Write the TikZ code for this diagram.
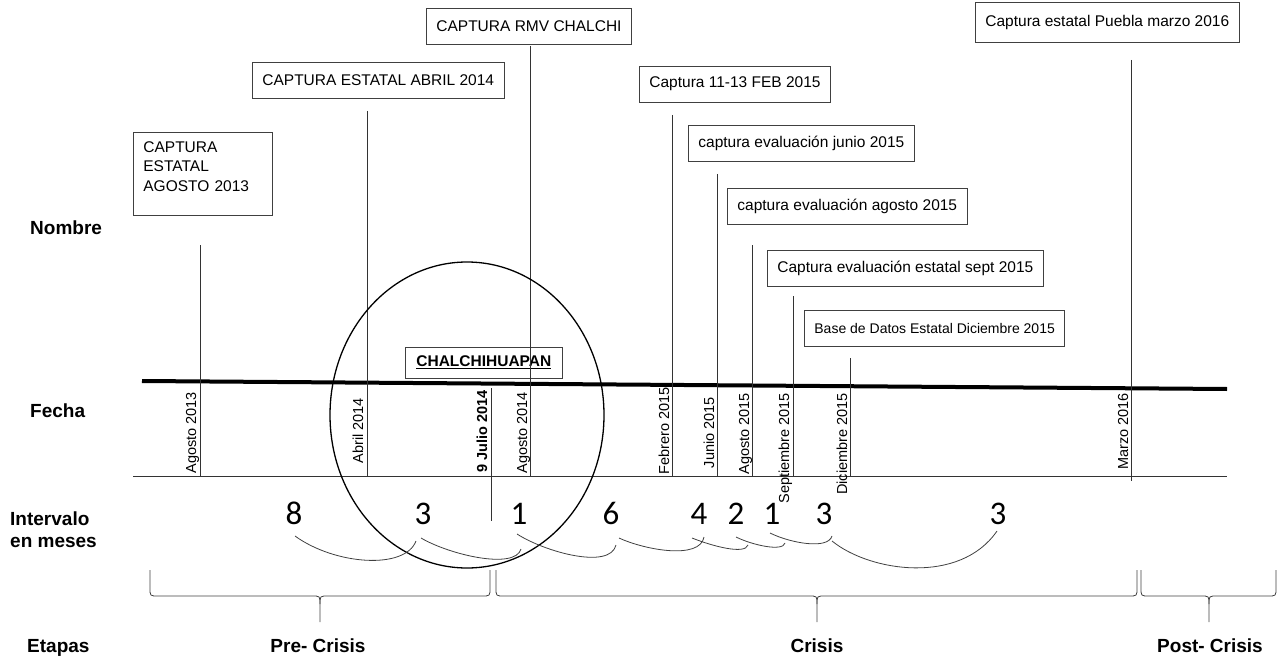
\documentclass[tikz,border=0pt]{standalone}
\usepackage{fontspec}
\setmainfont{Liberation Sans}
\newfontfamily\numfont{Carlito}
\usetikzlibrary{calc}

\begin{document}
\begin{tikzpicture}[x=1pt,y=-1pt,
	caja/.style={draw=black!75,line width=0.8pt,inner xsep=10pt,minimum height=36pt,anchor=west,font=\fontsize{15.5}{19.5}\selectfont},
	fecha/.style={rotate=90,anchor=base east,inner sep=0pt,font=\fontsize{14.5}{17}\selectfont},
	linea/.style={draw=black!80,line width=0.8pt},
	etiqueta/.style={font=\bfseries\fontsize{19}{22}\selectfont,inner sep=0pt},
	mes/.style={font=\numfont\fontsize{33}{36}\selectfont,inner sep=0pt,anchor=base},
	arco/.style={draw=black!75,line width=0.8pt},
	llave/.style={draw=black!75,line width=0.8pt}]
	
	\useasboundingbox (0,0) rectangle (1283,658);
	
	% filas
	\node[etiqueta,anchor=base west] (nombre) at (30,234) {Nombre};
	\node[etiqueta,anchor=base west] (fecha) at (30,417) {Fecha};
	\node[etiqueta,anchor=north west,align=left] (intervalo) at (10,512) {Intervalo\\en meses};
	\node[etiqueta,anchor=base west] (etapas) at (27,652) {Etapas};
	
	% cajas
	\node[caja,anchor=north west,align=left,text width=119pt,inner ysep=9pt,minimum height=0pt] (cap13) at (133,132) {CAPTURA\\ESTATAL\\AGOSTO 2013\\[-4.5pt]\mbox{}};
	\node[caja] (cap14) at (252,80) {CAPTURA ESTATAL ABRIL 2014};
	\node[caja] (rmv) at (426,26) {CAPTURA RMV CHALCHI};
	\node[caja] (feb15) at (639,84) {Captura 11-13 FEB 2015};
	\node[caja] (jun15) at (688,143) {captura evaluación junio 2015};
	\node[caja] (ago15) at (727,206) {captura evaluación agosto 2015};
	\node[caja] (sep15) at (767,268) {Captura evaluación estatal sept 2015};
	\node[caja,font=\fontsize{14}{17}\selectfont] (dic15) at (804,328) {Base de Datos Estatal Diciembre 2015};
	\node[caja,minimum height=40pt] (mar16) at (975,22) {Captura estatal Puebla marzo 2016};
	\node[draw=black!75,line width=0.8pt,font=\bfseries\fontsize{15.5}{18}\selectfont,inner xsep=11pt,minimum height=31pt,anchor=west] (chal) at (405,362.5) {\underline{CHALCHIHUAPAN}};
	
	% ejes
	\coordinate (eje1) at (142,381);
	\coordinate (eje2) at (1227,389);
	\coordinate (base1) at (133,476);
	\coordinate (base2) at (1227,476);
	\draw[line width=4pt] (eje1) -- (eje2);
	\draw[linea] (base1) -- (base2);
	
	% fechas
	\coordinate (ago13a) at (200,245);
	\coordinate (ago13b) at (200,476);
	\draw[linea] (ago13a) -- (ago13b);
	\node[fecha] (ago13) at (196,392) {Agosto 2013};
	
	\coordinate (abr14a) at (367,111);
	\coordinate (abr14b) at (367,476);
	\draw[linea] (abr14a) -- (abr14b);
	\node[fecha] (abr14) at (363,398) {Abril 2014};
	
	\coordinate (jul14a) at (491,388);
	\coordinate (jul14b) at (491,521);
	\draw[linea] (jul14a) -- (jul14b);
	\node[fecha,font=\bfseries\fontsize{14.5}{17}\selectfont] (jul14) at (487,390) {9 Julio 2014};
	
	\coordinate (ago14a) at (530,46);
	\coordinate (ago14b) at (530,476);
	\draw[linea] (ago14a) -- (ago14b);
	\node[fecha] (ago14) at (527,392) {Agosto 2014};
	
	\coordinate (feb15a) at (672,115);
	\coordinate (feb15b) at (672,476);
	\draw[linea] (feb15a) -- (feb15b);
	\node[fecha] (febrero) at (669,387) {Febrero 2015};
	
	\coordinate (jun15a) at (717,174);
	\coordinate (jun15b) at (717,476);
	\draw[linea] (jun15a) -- (jun15b);
	\node[fecha] (junio) at (714,397) {Junio 2015};
	
	\coordinate (ago15a) at (752,245);
	\coordinate (ago15b) at (752,476);
	\draw[linea] (ago15a) -- (ago15b);
	\node[fecha] (agosto) at (749,393) {Agosto 2015};
	
	\coordinate (sep15a) at (793,296);
	\coordinate (sep15b) at (793,476);
	\draw[linea] (sep15a) -- (sep15b);
	\node[fecha] (septiembre) at (789,393) {Septiembre 2015};
	
	\coordinate (dic15a) at (850,358);
	\coordinate (dic15b) at (850,476);
	\draw[linea] (dic15a) -- (dic15b);
	\node[fecha] (diciembre) at (847,393) {Diciembre 2015};
	
	\coordinate (mar16a) at (1131,60);
	\coordinate (mar16b) at (1131,481);
	\draw[linea] (mar16a) -- (mar16b);
	\node[fecha] (marzo) at (1128,393) {Marzo 2016};
	
	% circulo
	\draw[line width=1.3pt] (467,415) ellipse [x radius=137,y radius=153];
	
	% intervalos
	\node[mes] (m1) at (294,524) {8};
	\node[mes] (m2) at (423,524) {3};
	\node[mes] (m3) at (519,524) {1};
	\node[mes] (m4) at (611,524) {6};
	\node[mes] (m5) at (699,524) {4};
	\node[mes] (m6) at (736,524) {2};
	\node[mes] (m7) at (772,524) {1};
	\node[mes] (m8) at (824,524) {3};
	\node[mes] (m9) at (998,524) {3};
	
	\draw[arco] ($(m1.base)+(1,12)$) .. controls +(40,29) and +(-11,29) .. ($(m2.base)+(-7,17)$);
	\draw[arco] ($(m2.base)+(-2,14)$) .. controls +(29,17) and +(-6,21) .. ($(m3.base)+(2,25)$);
	\draw[arco] ($(m3.base)+(-2,10)$) .. controls +(28,18) and +(-6,25) .. ($(m4.base)+(5,21)$);
	\draw[arco] ($(m4.base)+(8,14)$) .. controls +(26,12) and +(-4,23) .. ($(m5.base)+(5,13)$);
	\draw[arco] ($(m5.base)+(-7,14)$) .. controls +(20,8) and +(-3,10) .. ($(m6.base)+(12,21)$);
	\draw[arco] ($(m6.base)+(0,13)$) .. controls +(16,8) and +(-2,9) .. ($(m7.base)+(13,19)$);
	\draw[arco] ($(m7.base)+(-2,9)$) .. controls +(20,10) and +(-4,14) .. ($(m8.base)+(8,12)$);
	\draw[arco] ($(m8.base)+(8,17)$) .. controls +(38,31) and +(-37,54) .. ($(m9.base)+(-1,7)$);
	
	% etapas
	\draw[llave] (150,570) -- (150,588) .. controls (150,596) .. (158,596) -- (312,596) .. controls (320,596) .. (320,604) -- (320,622);
	\draw[llave] (320,604) .. controls (320,596) .. (328,596) -- (482,596) .. controls (490,596) .. (490,588) -- (490,570);
	\draw[llave] (496,570) -- (496,588) .. controls (496,596) .. (504,596) -- (809,596) .. controls (817,596) .. (817,604) -- (817,622);
	\draw[llave] (817,604) .. controls (817,596) .. (825,596) -- (1129,596) .. controls (1137,596) .. (1137,588) -- (1137,570);
	\draw[llave] (1141,570) -- (1141,588) .. controls (1141,596) .. (1149,596) -- (1201,596) .. controls (1209,596) .. (1209,604) -- (1209,622);
	\draw[llave] (1209,604) .. controls (1209,596) .. (1217,596) -- (1268,596) .. controls (1276,596) .. (1276,588) -- (1276,570);
	
	\node[etiqueta,anchor=base] (pre) at (318,652) {Pre- Crisis};
	\node[etiqueta,anchor=base] (crisis) at (817,652) {Crisis};
	\node[etiqueta,anchor=base] (post) at (1210,652) {Post- Crisis};
\end{tikzpicture}
\end{document}
